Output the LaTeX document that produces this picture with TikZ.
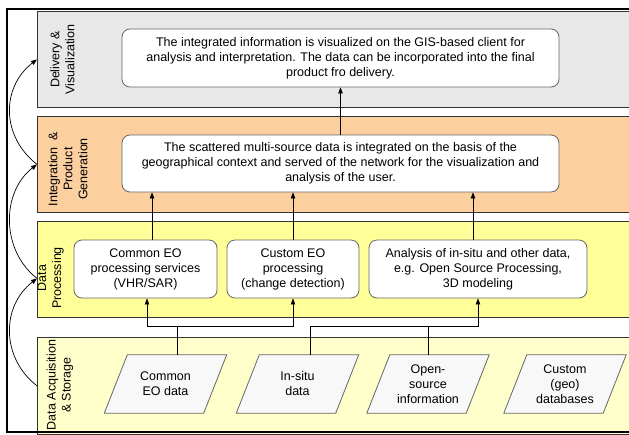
\documentclass[tikz,border=0pt]{standalone}
\usepackage{fontspec}
\setmainfont{Liberation Sans}
\usetikzlibrary{arrows.meta,calc}
\definecolor{bandgray}{HTML}{E8E8E8}
\definecolor{bandorange}{HTML}{FCCF9E}
\definecolor{bandyellow}{HTML}{FFFF99}
\definecolor{bandlight}{HTML}{FFFFCC}
\definecolor{pgfill}{HTML}{F8F8F8}
\pgfdeclarelayer{back}
\pgfdeclarelayer{mid}
\pgfsetlayers{back,mid,main}
\begin{document}
\begin{tikzpicture}[x=1pt,y=-1pt,
  every node/.style={font=\fontsize{12.5}{15}\selectfont, inner sep=0pt, text=black},
  band/.style={draw=black!80, line width=0.7pt, minimum width=600pt, minimum height=96pt, anchor=north west},
  rbox/.style={draw=black!60, line width=0.8pt, fill=white, rounded corners=8pt, align=center},
  pgtext/.style={align=center, minimum width=99pt, minimum height=58pt},
  pg/.style={draw=black!60, line width=0.8pt, fill=pgfill},
  lbl/.style={rotate=90, align=center},
  arr/.style={-{Triangle[length=6pt,width=4.5pt]}, line width=0.7pt},
  con/.style={line width=0.7pt},
]
\useasboundingbox (0,0) rectangle (629,434);
\clip (0,0) rectangle (629,434);
\begin{pgfonlayer}{back}
\node[band, fill=bandgray] (bd) at (37,11) {};
\node[band, fill=bandorange] (bi) at (37,116) {};
\node[band, fill=bandyellow] (bp) at (37,221) {};
\node[band, fill=bandlight, minimum height=97pt] (ba) at (37,337) {};
\end{pgfonlayer}
% band labels
\node[lbl] (ld) at (62.5,59.5) {Delivery \&\\Visualization};
\node[lbl] (li) at (68,169) {Integration \ \&\\Product\\Generation};
\node[lbl] (lp) at (50.5,278) {Data\\Processing};
\node[lbl] (la) at (60,385) {Data Acquisition\\\& Storage};
% boxes
\node[rbox, minimum width=437pt, minimum height=58pt] (deliv) at (340.5,58) {The integrated information is visualized on the GIS-based client for\\analysis and interpretation. The data can be incorporated into the final\\product fro delivery.};
\node[rbox, minimum width=437pt, minimum height=57pt] (integ) at (340.5,163.5) {The scattered multi-source data is integrated on the basis of the\\geographical context and served of the network for the visualization and\\analysis of the user.};
\node[rbox, minimum width=143pt, minimum height=58pt] (b1) at (145.5,269) {Common EO\\processing services\\(VHR/SAR)};
\node[rbox, minimum width=132pt, minimum height=58pt] (b2) at (293,269) {Custom EO\\processing\\(change detection)};
\node[rbox, minimum width=218pt, minimum height=58pt] (b3) at (478,269) {Analysis of in-situ and other data,\\e.g. Open Source Processing,\\3D modeling};
% parallelograms
\node[pgtext] (p1) at (165.5,384) {Common\\EO data};
\node[pgtext] (p2) at (297.5,384) {In-situ\\data};
\node[pgtext] (p3) at (428,384) {Open-\\source\\information};
\node[pgtext] (p4) at (565,384) {Custom\\(geo)\\databases};
\begin{pgfonlayer}{mid}
\foreach \n in {p1,p2,p3,p4}
  \draw[pg] ($(\n.north west)+(11.5,0)$) -- ($(\n.north east)+(11.5,0)$) -- ($(\n.south east)+(-11.5,0)$) -- ($(\n.south west)+(-11.5,0)$) -- cycle;
\end{pgfonlayer}
% connectors
\draw[arr] (integ.north) -- (deliv.south);
\draw[arr] ([xshift=6.5pt]b1.north) -- ([xshift=6.5pt]b1.north |- integ.south);
\draw[arr] (b2.north) -- (b2.north |- integ.south);
\draw[arr] ([xshift=-5pt]b3.north) -- ([xshift=-5pt]b3.north |- integ.south);
\draw[con] ([xshift=11.5pt]p1.north) -- ++(0,-28) coordinate (j1);
\draw[arr] (j1) -| ([xshift=1.5pt]b1.south);
\draw[arr] (j1) -| (b2.south);
\draw[con] ([xshift=12.5pt]p2.north) -- ++(0,-28) coordinate (j2);
\draw[arr] (j2) -| (b3.south);
\draw[con] (p3.north) -- (p3.north |- j2);
% left curved arrows
\draw[arr] (ba.west) .. controls +(-36,-28) and +(-36,28) .. ([yshift=-9pt]bp.west);
\draw[arr] ([yshift=-9pt]bp.west) .. controls +(-36,-28) and +(-36,28) .. (bi.west);
\draw[arr] (bi.west) .. controls +(-36,-28) and +(-36,28) .. (bd.west);
% frame
\draw[line width=2pt] (640,9) -- (7,9) -- (7,432) -- (640,432);
\end{tikzpicture}
\end{document}
